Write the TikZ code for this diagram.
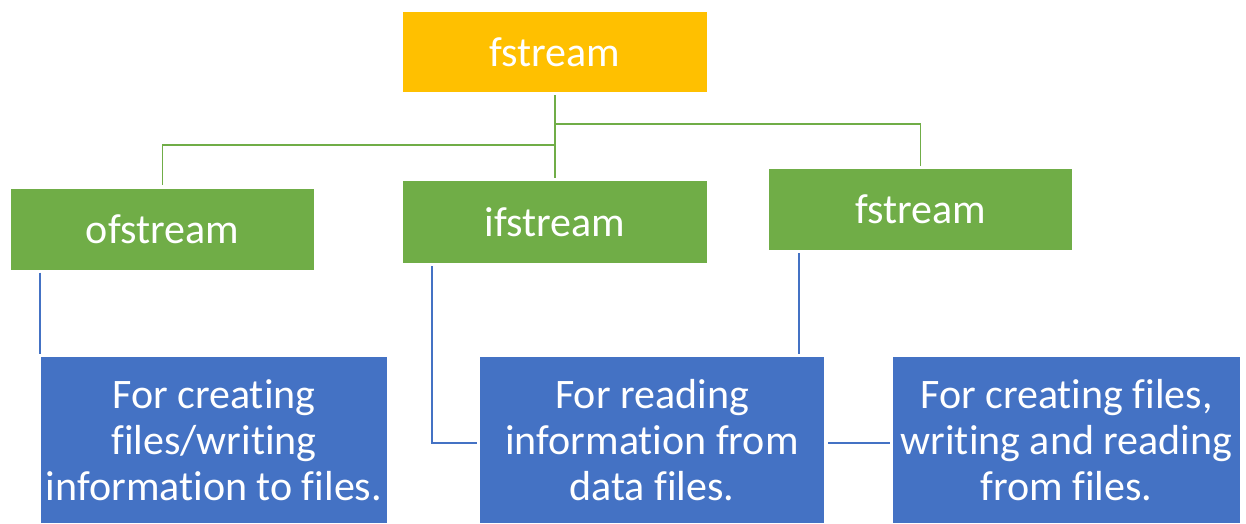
\documentclass[tikz,border=0pt]{standalone}
\usepackage{fontspec}
\setmainfont{Carlito}[Ligatures={NoCommon,NoRequired,NoContextual,NoRare}]
\usetikzlibrary{calc}
\definecolor{gold}{HTML}{FFC000}
\definecolor{leaf}{HTML}{70AD47}
\definecolor{sea}{HTML}{4472C4}
\tikzset{
  box/.style={inner sep=0pt, text=white, align=center, font=\fontsize{42}{46}\selectfont},
  rootbox/.style={box, fill=gold, minimum width=304pt, minimum height=80pt},
  greenbox/.style={box, fill=leaf, minimum width=303pt, minimum height=81pt},
  bluebox/.style={box, fill=sea, minimum width=346pt, minimum height=166pt},
  gline/.style={draw=leaf, line width=1.8pt},
  bline/.style={draw=sea, line width=1.4pt}
}
\begin{document}
\begin{tikzpicture}[x=1pt,y=-1pt]
\useasboundingbox (0,0) rectangle (1246,523);
\clip (0,0) rectangle (1246,523);
\node[rootbox] (top) at (555,52) {fstream};
\node[greenbox] (of) at (162.5,229) {ofstream};
\node[greenbox, minimum height=82pt, minimum width=304pt] (if) at (555,222) {ifstream};
\node[greenbox] (fs) at (920.5,209.5) {fstream};
\node[bluebox] (b1) at (214,440) {For creating\\files/writing\\information to files.};
\node[bluebox, minimum width=344pt] (b2) at (652,440) {For reading\\information from\\data files.};
\node[bluebox, minimum width=347pt] (b3) at (1066.5,440) {For creating files,\\writing and reading\\from files.};
\coordinate (j1) at (555,145);
\coordinate (j2) at (555,124);
\coordinate (h2) at (652,443);
\draw[gline] ([yshift=-3pt]top.south) -- ([yshift=3pt]if.north);
\draw[gline] (j1) -| ([yshift=3pt]of.north);
\draw[gline] (j2) -| ([yshift=3pt]fs.north);
\draw[bline] ([xshift=29pt,yshift=-3pt]of.south west) -- ([xshift=-1pt,yshift=3pt]b1.north west);
\draw[bline] ([xshift=29pt,yshift=-3pt]if.south west) |- ($(b2.west |- h2)+(-3,0)$);
\draw[bline] ([xshift=30pt,yshift=-3pt]fs.south west) -- ($(fs.south west |- b2.north)+(30,-3)$);
\draw[bline] ($(b2.east |- h2)+(4,0)$) -- ($(b3.west |- h2)+(-3,0)$);
\end{tikzpicture}
\end{document}
